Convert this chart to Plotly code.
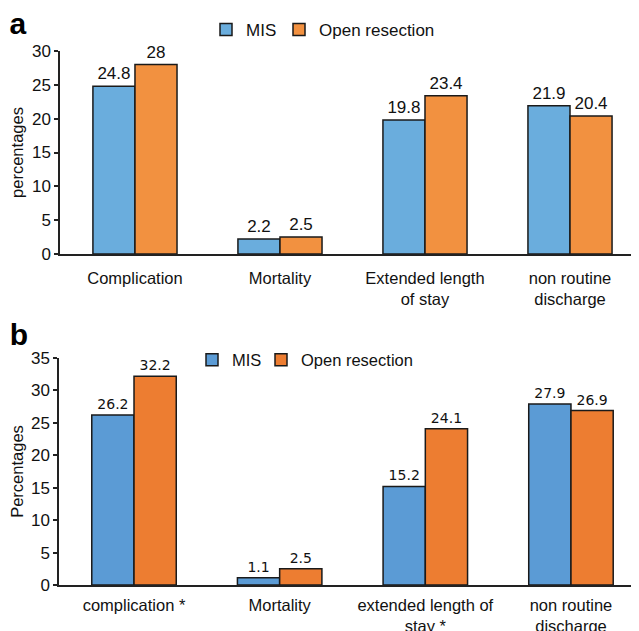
import plotly.graph_objects as go

# ---- data ----
cats_a = ["Complication", "Mortality", "Extended length<br>of stay", "non routine<br>discharge"]
mis_a = [24.8, 2.2, 19.8, 21.9]
open_a = [28, 2.5, 23.4, 20.4]

cats_b = ["complication *", "Mortality", "extended length of<br>stay *", "non routine<br>discharge"]
mis_b = [26.2, 1.1, 15.2, 27.9]
open_b = [32.2, 2.5, 24.1, 26.9]

series_names = ["MIS", "Open resection"]
yticks_a = [0, 5, 10, 15, 20, 25, 30]
yticks_b = [0, 5, 10, 15, 20, 25, 30, 35]

W, H = 639, 631
OFF = 8  # page body margin of the html page
FONT = "Liberation Sans, Arial, sans-serif"


def px(x):
    return (x - OFF) / W


def py(y):
    return 1 - (y - OFF) / H


col_a = ["#6aaddd", "#f29140"]
col_b = ["#5b9bd5", "#ed7d31"]
legends_a = ["legend2", "legend3"]
legends_b = ["legend4", "legend5"]

fig = go.Figure()


def fmt(v):
    return f"{v:g}"


# panel a
for name, vals, c, lg in zip(series_names, [mis_a, open_a], col_a, legends_a):
    fig.add_trace(go.Bar(
        x=cats_a, y=vals, name=name, xaxis="x", yaxis="y",
        marker=dict(color=c, line=dict(color="#1a1a1a", width=1.5)),
        text=[fmt(v) for v in vals], textposition="outside",
        textfont=dict(family=FONT, size=17, color="#111"),
        cliponaxis=False, legend=lg, showlegend=True,
    ))
# panel b
for name, vals, c, lg in zip(series_names, [mis_b, open_b], col_b, legends_b):
    fig.add_trace(go.Bar(
        x=cats_b, y=vals, name=name, xaxis="x2", yaxis="y2",
        marker=dict(color=c, line=dict(color="#1a1a1a", width=1.5)),
        text=[fmt(v) for v in vals], textposition="outside",
        textfont=dict(family="DejaVu Sans, sans-serif", size=14, color="#111"),
        cliponaxis=False, legend=lg, showlegend=True,
    ))

axis_common = dict(showgrid=False, zeroline=False, showline=True,
                   linecolor="#222", linewidth=1.5, automargin=False)


def leg(xbox, ycenter, size):
    return dict(orientation="h", x=px(xbox - 14), y=py(ycenter), xanchor="left",
                yanchor="middle", font=dict(size=size), itemwidth=30,
                bgcolor="rgba(0,0,0,0)", visible=True)


fig.update_layout(
    width=W, height=H,
    margin=dict(l=0, r=0, t=0, b=0, autoexpand=False),
    paper_bgcolor="white", plot_bgcolor="white",
    font=dict(family=FONT, color="#111"),
    barmode="group", bargap=0.42, bargroupgap=0,
    showlegend=True,
    xaxis=dict(domain=[px(60), 1], anchor="y", range=[-0.517, 3.531],
               ticks="", ticklabelstandoff=8, tickfont=dict(size=16.5),
               **axis_common),
    yaxis=dict(domain=[py(254), py(51)], anchor="x", range=[0, 30],
               tickvals=yticks_a, ticks="outside", ticklen=4, tickcolor="#222",
               tickwidth=1.5, tickfont=dict(size=17),
               title=dict(text="percentages", font=dict(size=16.5), standoff=4),
               **axis_common),
    xaxis2=dict(domain=[px(59), 1], anchor="y2", range=[-0.515, 3.522],
                ticks="", ticklabelstandoff=4, tickfont=dict(size=16.5),
                **axis_common),
    yaxis2=dict(domain=[py(585), py(358)], anchor="x2", range=[0, 35],
                tickvals=yticks_b, ticks="outside", ticklen=4, tickcolor="#222",
                tickwidth=1.5, tickfont=dict(size=17),
                title=dict(text="Percentages", font=dict(size=16.5), standoff=4),
                **axis_common),
    legend2=leg(220, 30, 17),
    legend3=leg(293, 30, 17),
    legend4=leg(206, 360, 16.5),
    legend5=leg(275, 360, 16.5),
    annotations=[
        dict(text="<b>a</b>", x=px(18), y=py(23), xref="paper", yref="paper",
             xanchor="center", yanchor="middle", height=26, width=24,
             showarrow=False, font=dict(size=30, family=FONT, color="#000")),
        dict(text="<b>b</b>", x=px(19), y=py(334), xref="paper", yref="paper",
             xanchor="center", yanchor="middle", height=30, width=24,
             showarrow=False, font=dict(size=30, family=FONT, color="#000")),
    ],
)

fig.write_html("out.html")
